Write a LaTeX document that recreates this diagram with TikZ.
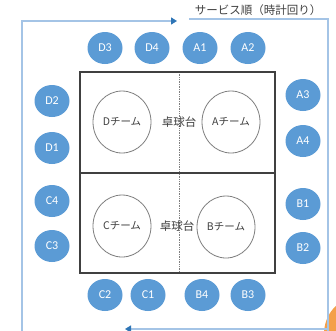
\documentclass[tikz,border=0pt]{standalone}
\usepackage{fontspec}
\setmainfont{Carlito}
\newfontfamily\jp{Noto Sans CJK JP}
\usetikzlibrary{arrows.meta,shapes.geometric}
\definecolor{seatblue}{HTML}{5B9BD5}
\definecolor{framecol}{HTML}{A4C4E6}
\definecolor{arrowcol}{HTML}{2E75B6}
\definecolor{txtgray}{HTML}{404040}
\definecolor{teamgray}{HTML}{7F7F7F}
\definecolor{orangeblob}{HTML}{F4A04A}
\tikzset{
  seat/.style={ellipse, fill=seatblue, minimum width=35pt, minimum height=32pt, inner sep=0pt,
    text=white, font=\fontsize{12}{12}\selectfont},
  team/.style={ellipse, draw=teamgray, line width=0.8pt, minimum width=58pt, minimum height=62pt,
    inner sep=0pt, text=txtgray, font=\jp\fontsize{10.5}{10.5}\selectfont},
  tablelbl/.style={text=txtgray, font=\jp\fontsize{11.5}{11.5}\selectfont, inner sep=0pt},
  frameline/.style={draw=framecol, line width=1.3pt},
  flowarrow/.style={-{Triangle[length=6pt,width=7pt,color=arrowcol]}},
  tableline/.style={draw=txtgray, line width=1.6pt}
}
\begin{document}
\begin{tikzpicture}[x=1pt,y=-1pt]
\useasboundingbox (0,0) rectangle (336,330);
\fill[white] (0,0) rectangle (336,330);
% orange fragment at the corner
\begin{scope}
\clip (0,0) rectangle (336,330);
\fill[orangeblob] (356,334) ellipse (32 and 36);
\end{scope}
% frame coordinates
\coordinate (lb) at (22,331);
\coordinate (lt) at (22,21);
\coordinate (ta) at (177,21);
\coordinate (ts) at (189,19);
\coordinate (rt) at (328,19);
\coordinate (rb) at (328,331);
\coordinate (bs) at (328,329);
\coordinate (ba) at (125,329);
\draw[frameline, flowarrow] (lb) -- (lt) -- (ta);
\draw[frameline] (ts) -- (rt) -- (rb);
\draw[frameline, flowarrow] (bs) -- (ba);
\node[text=txtgray, font=\jp\fontsize{11.5}{11.5}\selectfont, inner sep=0pt] (order) at (258,10) {サービス順（時計回り）};
% table
\coordinate (t1) at (80,72);
\coordinate (t2) at (275,273);
\coordinate (ml) at (80,173);
\coordinate (mr) at (275,173);
\coordinate (dt) at (179,72);
\coordinate (db) at (179,273);
\draw[teamgray, densely dotted, line width=0.7pt] (dt) -- (db);
\draw[tableline] (t1) rectangle (t2);
\draw[tableline] (ml) -- (mr);
% teams
\node[team] (tD) at (122,122) {Dチーム};
\node[team] (tA) at (231,122) {Aチーム};
\node[team] (tC) at (122,226) {Cチーム};
\node[team] (tB) at (226,227) {Bチーム};
\node[tablelbl] (tab1) at (179,122) {卓球台};
\node[tablelbl] (tab2) at (177,226) {卓球台};
% seats top
\node[seat] (D3) at (105,48) {D3};
\node[seat] (D4) at (152,48) {D4};
\node[seat] (A1) at (200,48) {A1};
\node[seat] (A2) at (248,48) {A2};
% seats bottom
\node[seat] (C2) at (105,295) {C2};
\node[seat] (C1) at (148,295) {C1};
\node[seat] (B4) at (202,295) {B4};
\node[seat] (B3) at (248,295) {B3};
% seats left
\node[seat] (D2) at (52,101) {D2};
\node[seat] (D1) at (52,148) {D1};
\node[seat] (C4) at (52,201) {C4};
\node[seat] (C3) at (52,246) {C3};
% seats right
\node[seat] (A3) at (303,95) {A3};
\node[seat] (A4) at (303,141) {A4};
\node[seat] (B1) at (303,204) {B1};
\node[seat] (B2) at (303,248) {B2};
\end{tikzpicture}
\end{document}
